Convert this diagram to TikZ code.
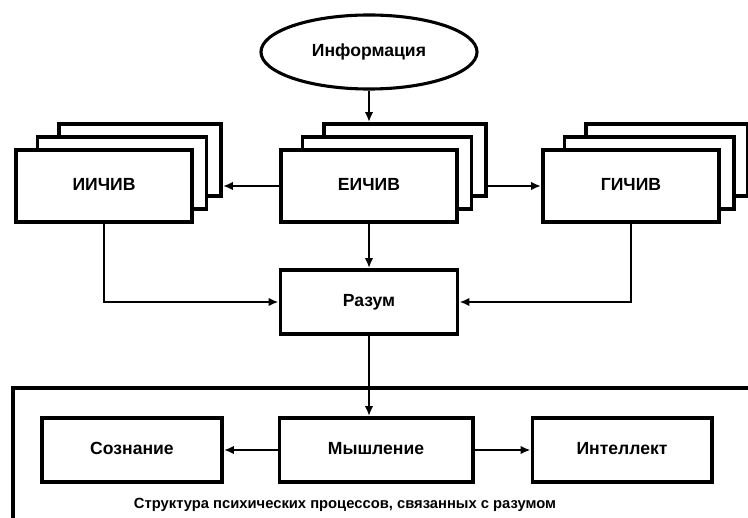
\documentclass[tikz,border=0pt]{standalone}
\usepackage{fontspec}
\setmainfont{Liberation Sans}
\usetikzlibrary{shapes.geometric, arrows.meta}

\begin{document}
\begin{tikzpicture}[x=0.025cm, y=-0.025cm,
    font=\bfseries\fontsize{12.5}{14}\selectfont,
    >={Latex[length=7pt, width=6pt]},
    box/.style={draw, line width=2.8pt, fill=white, inner sep=0pt, minimum height=1.8cm,
                text height=1.6ex, text depth=0.4ex},
    smallbox/.style={box, minimum height=1.6cm},
    info/.style={draw, ellipse, line width=2.2pt, inner sep=0pt, minimum width=5.4cm, minimum height=1.85cm},
    line/.style={line width=1.7pt}]

    \useasboundingbox (0,0) rectangle (748,518);

    % Информация
    \node[info] (info) at (369,52) {Информация};

    % Стопка ИИЧИВ
    \node[box, minimum width=4.05cm] (iichiv3) at (140,160) {};
    \node[box, minimum width=4.225cm] (iichiv2) at (122,173) {};
    \node[box, minimum width=4.4cm] (iichiv) at (104,186) {ИИЧИВ};

    % Стопка ЕИЧИВ
    \node[box, minimum width=4.05cm] (eichiv3) at (405,160) {};
    \node[box, minimum width=4.225cm] (eichiv2) at (387,173) {};
    \node[box, minimum width=4.4cm] (eichiv) at (369,186) {ЕИЧИВ};

    % Стопка ГИЧИВ
    \node[box, minimum width=4.05cm] (gichiv3) at (667,160) {};
    \node[box, minimum width=4.225cm] (gichiv2) at (649,173) {};
    \node[box, minimum width=4.4cm] (gichiv) at (631,186) {ГИЧИВ};

    % Разум
    \node[smallbox, minimum width=4.425cm] (razum) at (369,302) {Разум};

    % Рамка структуры
    \draw[line width=2.8pt] (748,388) -- (13,388) -- (13,518);

    % Процессы внутри рамки
    \node[smallbox, minimum width=4.5cm] (soznanie) at (132,450) {Сознание};
    \node[smallbox, minimum width=4.825cm] (myshlenie) at (376,450) {Мышление};
    \node[smallbox, minimum width=4.475cm] (intellekt) at (622,450) {Интеллект};

    \node[font=\bfseries\fontsize{10.5}{12}\selectfont] (caption) at (345,505)
        {Структура психических процессов, связанных с разумом};

    % Связи
    \path[->, line]
        (info.south) edge (info.south |- eichiv3.north)
        (eichiv.west) edge (eichiv.west -| iichiv3.east)
        (eichiv.west -| eichiv3.east) edge (gichiv.west)
        (eichiv.south) edge (razum.north)
        (razum.south) edge (razum.south |- myshlenie.north)
        (myshlenie.west) edge (soznanie.east)
        (myshlenie.east) edge (intellekt.west);

    \draw[->, line] (iichiv.south) |- (razum.west);
    \draw[->, line] (gichiv.south) |- (razum.east);

\end{tikzpicture}
\end{document}
